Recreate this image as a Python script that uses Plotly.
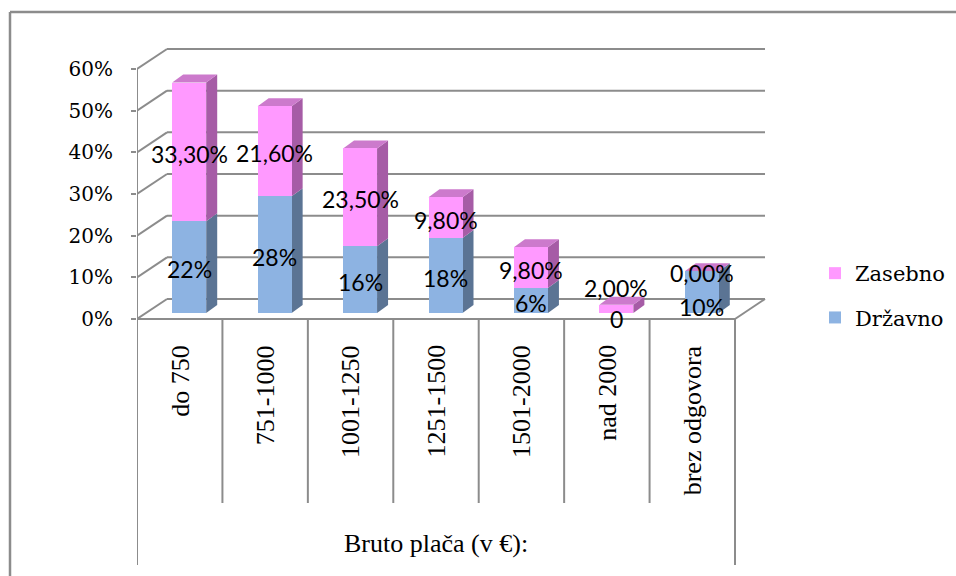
import plotly.graph_objects as go

# ---- data -------------------------------------------------------------
categories = ["do 750", "751-1000", "1001-1250", "1251-1500",
              "1501-2000", "nad 2000", "brez odgovora"]
drzavno = [22, 28, 16, 18, 6, 0, 10]            # Državno, %
zasebno = [33.3, 21.6, 23.5, 9.8, 9.8, 2.0, 0.0]  # Zasebno, %
y_ticks = [0, 10, 20, 30, 40, 50, 60]
axis_title = "Bruto plača (v €):"
series_names = ["Državno", "Zasebno"]

# ---- canvas / scale geometry -------------------------------------------
W, H = 956, 576
M_L, M_T = 137, 30
PLOT_W, PLOT_H = W - M_L, H - M_T
n = len(categories)
PX_X = 598 / n              # pixels per category slot
PX_Y = 250 / 60             # pixels per percent
ZERO_PX = 319               # vertical pixel of the 0 % front edge
x_range = [0, PLOT_W / PX_X]
y_range = [-(H - ZERO_PX) / PX_Y, (ZERO_PX - M_T) / PX_Y]

# pseudo-3D depth offsets (converted to data units)
wall_dx, wall_dy = 30 / PX_X, 20 / PX_Y
bar_dx, bar_dy = 11 / PX_X, 8 / PX_Y
set_dx, set_dy = (wall_dx - bar_dx) / 2, (wall_dy - bar_dy) / 2
bar_w = 34 / PX_X
divider_bottom = -(503 - ZERO_PX) / PX_Y
outer_bottom = -(565 - ZERO_PX) / PX_Y
label_top = -(343 - ZERO_PX) / PX_Y
title_y = -(543 - ZERO_PX) / PX_Y

GRID = "#8C8C8C"
BLUE_FRONT, BLUE_SIDE = "#8DB3E2", "#5B7494"
PINK_FRONT, PINK_SIDE, PINK_TOP = "#FF99FF", "#A65CA6", "#CC7ACC"
SERIF = "Liberation Serif"
WIDE_SERIF = "DejaVu Serif"
SANS = "Lato"

centers = [i + 0.5 + set_dx for i in range(n)]
base_blue = [set_dy] * n
base_pink = [set_dy + d for d in drzavno]

fig = go.Figure()
# Zasebno is added first so it heads the legend
fig.add_trace(go.Bar(x=centers, y=zasebno, base=base_pink, width=bar_w,
                     name=series_names[1], legendgroup="z",
                     marker=dict(color=PINK_FRONT, line=dict(width=0)),
                     hoverinfo="skip"))
fig.add_trace(go.Bar(x=centers, y=drzavno, base=base_blue, width=bar_w,
                     name=series_names[0], legendgroup="d",
                     marker=dict(color=BLUE_FRONT, line=dict(width=0)),
                     hoverinfo="skip"))

shapes = []


def line(x0, y0, x1, y1, width=2, color=GRID):
    shapes.append(dict(type="line", xref="x", yref="y", x0=x0, y0=y0,
                       x1=x1, y1=y1, layer="below",
                       line=dict(color=color, width=width)))


def poly(pts, color):
    path = "M " + " L ".join(f"{px},{py}" for px, py in pts) + " Z"
    shapes.append(dict(type="path", xref="x", yref="y", path=path,
                       fillcolor=color, line=dict(width=0), layer="below"))


# side wall + back wall gridlines
for t in y_ticks:
    line(0, t, wall_dx, t + wall_dy)
    line(wall_dx, t + wall_dy, n + wall_dx, t + wall_dy)
# floor edges
line(0, 0, n, 0)
line(n, 0, n + wall_dx, wall_dy)
# front value axis and category dividers
line(0, y_ticks[-1], 0, outer_bottom)
line(n, 0, n, outer_bottom)
for i in range(1, n):
    line(i, 0, i, divider_bottom)

# side and top faces of each stacked column
for i in range(n):
    xl, xr = centers[i] - bar_w / 2, centers[i] + bar_w / 2
    segs = [(base_blue[i], base_blue[i] + drzavno[i], BLUE_SIDE),
            (base_pink[i], base_pink[i] + zasebno[i], PINK_SIDE)]
    for b, t, col in segs:
        if t > b:
            poly([(xr, b), (xr + bar_dx, b + bar_dy),
                  (xr + bar_dx, t + bar_dy), (xr, t)], col)
    top = base_pink[i] + zasebno[i]
    poly([(xl, top), (xl + bar_dx, top + bar_dy),
          (xr + bar_dx, top + bar_dy), (xr, top)], PINK_TOP)


# chart frame
def px2paper_x(px):
    return (px - M_L) / PLOT_W


def px2paper_y(py):
    return (H - py) / PLOT_H


for x0, y0, x1, y1 in [(10, 12, W + 5, 12), (10, 12, 10, H + 5)]:
    shapes.append(dict(type="line", xref="paper", yref="paper",
                       x0=px2paper_x(x0), y0=px2paper_y(y0),
                       x1=px2paper_x(x1), y1=px2paper_y(y1),
                       line=dict(color=GRID, width=2.5)))

annotations = []


def fmt_d(v):
    return f"{v:g}%" if v else "0"


def fmt_z(v):
    return f"{v:.2f}".replace(".", ",") + "%"


# label nudges (pixels) for the crowded small columns
nudge_d = [-2, -2, -2, -2, -2, -6, -15]
nudge_z = [-2, -2, -2, -2, -2, 21, -2]
for i in range(n):
    annotations.append(dict(x=centers[i], y=base_blue[i] + drzavno[i] / 2,
                            text=fmt_d(drzavno[i]), showarrow=False,
                            yshift=nudge_d[i],
                            font=dict(family=SANS, size=23, color="black")))
    annotations.append(dict(x=centers[i], y=base_pink[i] + zasebno[i] / 2,
                            text=fmt_z(zasebno[i]), showarrow=False,
                            yshift=nudge_z[i],
                            font=dict(family=SANS, size=23, color="black")))
    annotations.append(dict(x=i + 0.5, y=label_top, text=categories[i],
                            textangle=-90, showarrow=False,
                            xanchor="center", yanchor="top",
                            font=dict(family=SERIF, size=26, color="black")))

annotations.append(dict(x=n / 2, y=title_y, text=axis_title, showarrow=False,
                        font=dict(family=SERIF, size=26, color="black")))

fig.update_layout(
    width=W, height=H,
    margin=dict(l=M_L, r=0, t=M_T, b=0, pad=0),
    paper_bgcolor="white", plot_bgcolor="white",
    barmode="overlay", bargap=0,
    shapes=shapes, annotations=annotations,
    showlegend=True,
    font=dict(family=SERIF, size=22, color="black"),
    legend=dict(x=px2paper_x(815), y=px2paper_y(253), xanchor="left",
                yanchor="top", traceorder="grouped",
                tracegroupgap=14, bgcolor="rgba(0,0,0,0)",
                font=dict(family=WIDE_SERIF, size=21, color="black")),
    xaxis=dict(range=x_range, visible=False, fixedrange=True),
    yaxis=dict(range=y_range, tickmode="array", tickvals=y_ticks,
               ticktext=[f"{t}%" for t in y_ticks],
               ticks="outside", ticklen=5, tickwidth=2, tickcolor=GRID,
               ticklabelstandoff=14, showgrid=False, zeroline=False,
               showline=False, automargin=False, fixedrange=True,
               tickfont=dict(family=WIDE_SERIF, size=20, color="black")),
)

fig.write_html("out.html")
